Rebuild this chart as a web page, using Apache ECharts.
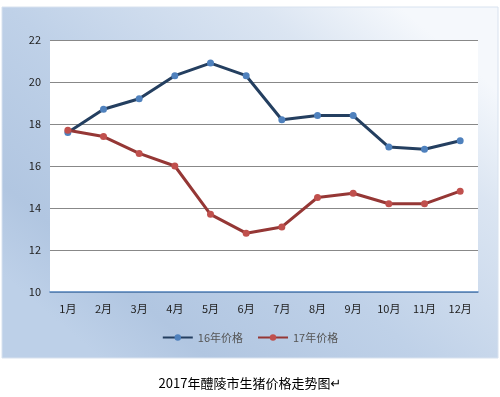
<!DOCTYPE html>
<html><head><meta charset="utf-8">
<script src="https://cdn.jsdelivr.net/npm/echarts@6/dist/echarts.min.js"></script>
<style>html,body{margin:0;padding:0;background:#fff}#c{width:500px;height:397px}</style>
</head><body><div id="c"></div>
<script>
const categories = ['1月','2月','3月','4月','5月','6月','7月','8月','9月','10月','11月','12月'];
const price16 = [17.6, 18.7, 19.2, 20.3, 20.9, 20.3, 18.2, 18.4, 18.4, 16.9, 16.8, 17.2];
const price17 = [17.7, 17.4, 16.6, 16.0, 13.7, 12.8, 13.1, 14.5, 14.7, 14.2, 14.2, 14.8];
const seriesNames = ['16年价格', '17年价格'];
const chartTitle = '2017年醴陵市生猪价格走势图↵';

const chart = echarts.init(document.getElementById('c'), null, {renderer: 'canvas'});
const font = '"Noto Sans CJK SC", "DejaVu Sans", sans-serif';
chart.setOption({
  animation: false,
  graphic: [{
    type: 'rect', z: -10, silent: true,
    shape: {x: 2, y: 7, width: 496, height: 351},
    style: {
      fill: new echarts.graphic.LinearGradient(0.2, 1, 0.8, 0, [
        {offset: 0, color: '#bdd0e8'},
        {offset: 0.15, color: '#b1c6e1'},
        {offset: 0.45, color: '#bfd1e8'},
        {offset: 0.8, color: '#dbe5f2'},
        {offset: 1, color: '#f5f8fc'}
      ]),
      stroke: '#d8e2ef', lineWidth: 1
    }
  }],
  title: {
    text: chartTitle, left: 'center', top: 372,
    textStyle: {fontFamily: font, fontSize: 13, fontWeight: 'normal', color: '#000'}
  },
  legend: {
    data: seriesNames, bottom: 49, left: 'center', itemGap: 14,
    itemWidth: 30, itemHeight: 8,
    textStyle: {fontFamily: font, fontSize: 11, color: '#555'}
  },
  grid: {left: 50, right: 22, top: 40, bottom: 105, backgroundColor: '#fff', show: true, borderWidth: 0},
  xAxis: {
    type: 'category', data: categories, boundaryGap: true,
    axisLine: {lineStyle: {color: '#4f81bd', width: 1.5}},
    axisTick: {show: false},
    axisLabel: {fontFamily: font, fontSize: 11, color: '#222', margin: 11}
  },
  yAxis: {
    type: 'value', min: 10, max: 22, interval: 2,
    axisLine: {show: false}, axisTick: {show: false},
    splitLine: {lineStyle: {color: '#888', width: 1}},
    axisLabel: {fontFamily: font, fontSize: 11, color: '#222', margin: 9}
  },
  series: [
    {name: seriesNames[0], type: 'line', data: price16, symbol: 'circle', symbolSize: 7,
     lineStyle: {color: '#243f60', width: 3}, itemStyle: {color: '#4f81bd'}},
    {name: seriesNames[1], type: 'line', data: price17, symbol: 'circle', symbolSize: 7,
     lineStyle: {color: '#953735', width: 3}, itemStyle: {color: '#c0504d'}}
  ]
});
</script></body></html>
